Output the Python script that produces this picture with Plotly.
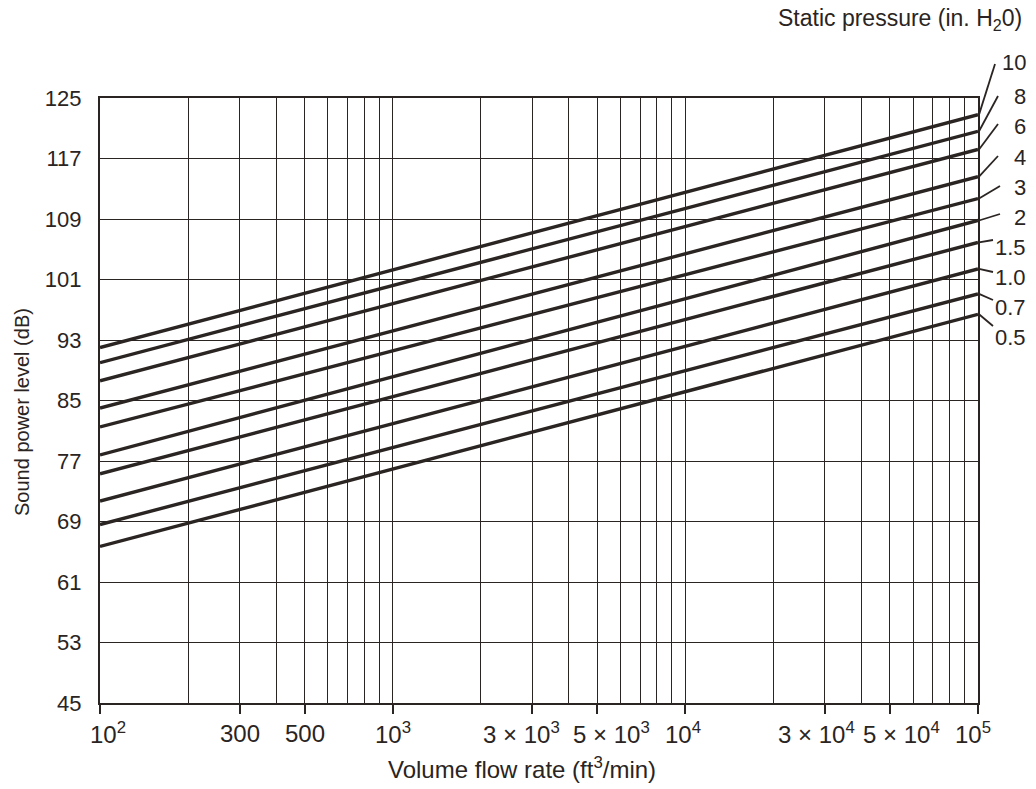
import math
import plotly.graph_objects as go

# ---- data ----
pressure_labels = ["10", "8", "6", "4", "3", "2", "1.5", "1.0", "0.7", "0.5"]
flow_rate = [100, 100000]                      # ft^3/min, chart x-extent
level_at_1e2 = [92.0, 90.0, 87.6, 84.0, 81.5, 77.8, 75.3, 71.7, 68.6, 65.7]   # dB at 10^2
level_at_1e5 = [122.8, 120.6, 118.2, 114.6, 111.7, 108.8, 105.9, 102.4, 99.1, 96.4]  # dB at 10^5

x_tick_vals = [100, 300, 500, 1000, 3000, 5000, 10000, 30000, 50000, 100000]
x_tick_text = ["10<sup>2</sup>", "300", "500", "10<sup>3</sup>", "3 × 10<sup>3</sup>",
               "5 × 10<sup>3</sup>", "10<sup>4</sup>", "3 × 10<sup>4</sup>",
               "5 × 10<sup>4</sup>", "10<sup>5</sup>"]
x_grid_vals = [m * 10 ** e for e in (2, 3, 4) for m in range(1, 10)] + [100000]
y_tick_vals = list(range(45, 126, 8))

# ---- layout geometry (pixels) ----
W, H = 1036, 789
L, R, T, B = 100, 978, 98, 703
Y0, Y1 = 45, 125
INK = "#2a2422"
FONT = "Liberation Sans, Arial, Helvetica, sans-serif"

def px_to_xpaper(px):
    return (px - L) / (R - L)

def py_to_ypaper(py):
    return (B - py) / (B - T)

def val_to_ypaper(v):
    return (v - Y0) / (Y1 - Y0)

# horizontal nudges (px) of the x tick labels relative to their ticks
label_nudge = [8, 0, 0, 0, -11, 14, -2, -8, 12, -5]

fig = go.Figure()
for name, a, b in zip(pressure_labels, level_at_1e2, level_at_1e5):
    fig.add_trace(go.Scatter(x=flow_rate, y=[a, b], mode="lines", name=name,
                             line=dict(color=INK, width=3.4), showlegend=False,
                             cliponaxis=False))

# label positions beside the right edge (pixel centres) and leader end points
label_py = [63, 96, 126, 157, 187, 217, 247, 277, 307, 337]
leader_end = [(995, 64), (998, 96), (998, 124), (998, 156), (1000, 186),
              (1000, 214), (993, 240), (993, 272), (993, 300), (993, 326)]

shapes = []
annotations = []
for name, yend, lpy, (ex, ey) in zip(pressure_labels, level_at_1e5, label_py, leader_end):
    shapes.append(dict(type="line", xref="paper", yref="paper",
                       x0=px_to_xpaper(R + 1), y0=val_to_ypaper(yend),
                       x1=px_to_xpaper(ex), y1=py_to_ypaper(ey),
                       line=dict(color=INK, width=1.8)))
    annotations.append(dict(text=name, xref="paper", yref="paper",
                            x=px_to_xpaper(1028), y=py_to_ypaper(lpy),
                            xanchor="right", yanchor="middle", showarrow=False,
                            font=dict(size=22, color=INK, family=FONT)))

# x tick labels (placed at the tick values on the log axis; annotation x is log10 there)
for v, t, dx in zip(x_tick_vals, x_tick_text, label_nudge):
    annotations.append(dict(text=t, xref="x", yref="paper", x=math.log10(v),
                            y=py_to_ypaper(733), xshift=dx,
                            xanchor="center", yanchor="middle", showarrow=False,
                            font=dict(size=24, color=INK, family=FONT)))

annotations.append(dict(text="Static pressure (in. H<sub>2</sub>0)", xref="paper", yref="paper",
                        x=px_to_xpaper(1024), y=py_to_ypaper(20),
                        xanchor="right", yanchor="middle", showarrow=False,
                        font=dict(size=23, color=INK, family=FONT)))
annotations.append(dict(text="Volume flow rate (ft<sup>3</sup>/min)", xref="paper", yref="paper",
                        x=px_to_xpaper(522), y=py_to_ypaper(768),
                        xanchor="center", yanchor="middle", showarrow=False,
                        font=dict(size=24, color=INK, family=FONT)))
annotations.append(dict(text="Sound power level (dB)", xref="paper", yref="paper",
                        x=px_to_xpaper(22), y=py_to_ypaper(412), textangle=-90,
                        xanchor="center", yanchor="middle", showarrow=False,
                        font=dict(size=20, color=INK, family=FONT)))

fig.update_layout(
    width=W, height=H,
    margin=dict(l=L, r=W - R, t=T, b=H - B, pad=0),
    paper_bgcolor="white", plot_bgcolor="white",
    font=dict(family=FONT, color=INK),
    shapes=shapes, annotations=annotations,
    xaxis=dict(type="log", range=[2, 5], tickvals=x_tick_vals, showticklabels=False,
               ticks="outside", ticklen=9, tickwidth=1.6, tickcolor=INK,
               showgrid=True, gridcolor=INK, gridwidth=1.4,
               minor=dict(tickvals=x_grid_vals, showgrid=True, gridcolor=INK,
                          gridwidth=1.4, ticks=""),
               showline=True, linecolor=INK, linewidth=2.2, mirror=True,
               zeroline=False),
    yaxis=dict(range=[Y0, Y1], tickvals=y_tick_vals, ticks="",
               showgrid=True, gridcolor=INK, gridwidth=1.4,
               showline=True, linecolor=INK, linewidth=2.2, mirror=True,
               zeroline=False, ticklabelstandoff=12,
               tickfont=dict(size=22, color=INK, family=FONT)),
)

fig.write_html("out.html")
